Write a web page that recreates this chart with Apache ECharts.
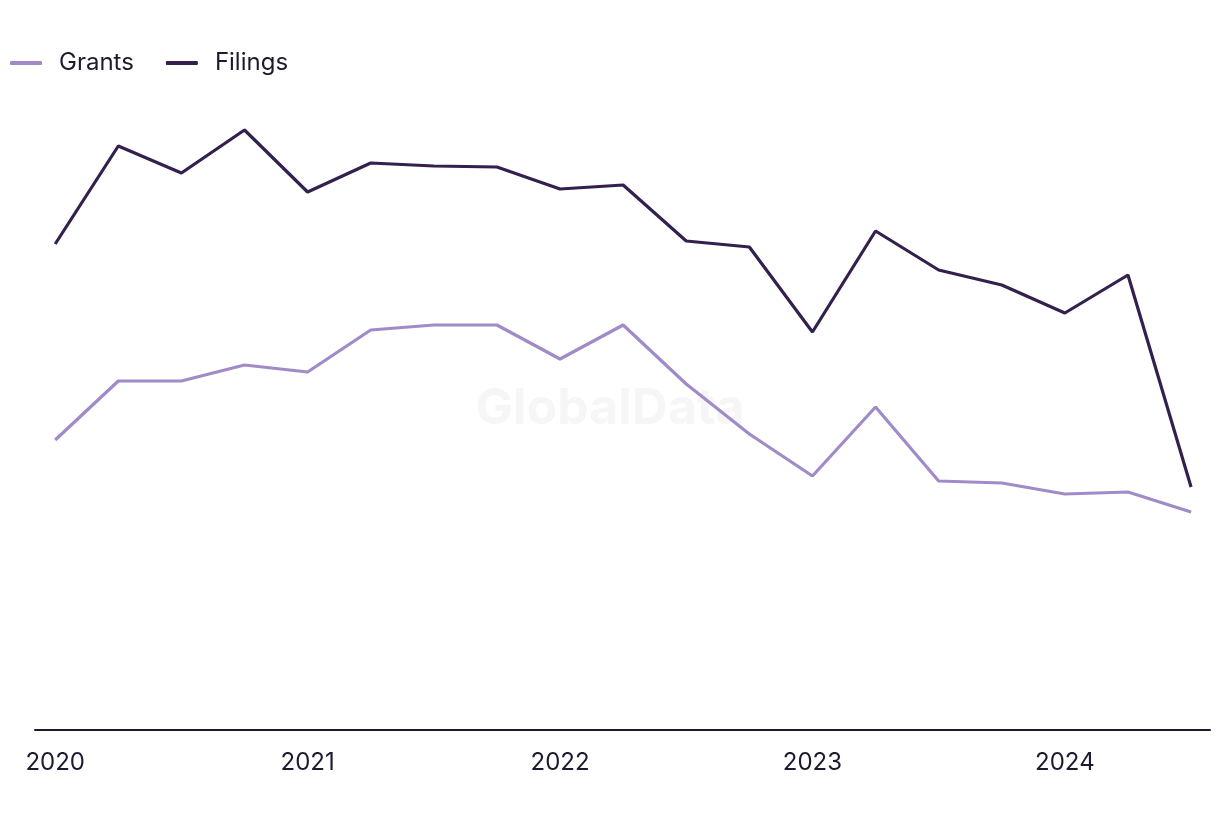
<!DOCTYPE html>
<html><head><meta charset="utf-8">
<script src="https://cdn.jsdelivr.net/npm/echarts@6/dist/echarts.min.js"></script>
<style>html,body{margin:0;padding:0;background:#fff}#c{width:1220px;height:820px}</style>
</head><body><div id="c"></div>
<script>
const quarters = ['2020 Q1','2020 Q2','2020 Q3','2020 Q4','2021 Q1','2021 Q2','2021 Q3','2021 Q4','2022 Q1','2022 Q2','2022 Q3','2022 Q4','2023 Q1','2023 Q2','2023 Q3','2023 Q4','2024 Q1','2024 Q2','2024 Q3'];
const filings = [486, 584, 557, 600, 538, 567, 564, 563, 541, 545, 489, 483, 398, 499, 460, 445, 417, 455, 243];
const grants  = [290, 349, 349, 365, 358, 400, 405, 405, 371, 405, 346, 296, 254, 323, 249, 247, 236, 238, 218];
const yearTicks = [0, 4, 8, 12, 16];
const yearLabels = ['2020','2021','2022','2023','2024'];

const font = 'Inter, "Noto Sans", sans-serif';
const chart = echarts.init(document.getElementById('c'), null, {renderer:'canvas'});
chart.setOption({
  animation:false,
  backgroundColor:'#ffffff',
  graphic:[{type:'text', left:'center', top:384, z:0, silent:true,
    style:{text:'GlobalData', font:'bold 50px '+font, fill:'#f6f6f6'}}],
  legend:{
    left:5, top:46, itemWidth:32, itemHeight:4, itemGap:32, icon:'roundRect',
    textStyle:{fontFamily:font, fontSize:24, color:'#1c1b2e', padding:[0,0,0,12]},
    data:['Grants','Filings']
  },
  grid:{left:35, right:10, top:100, bottom:90, containLabel:false},
  xAxis:{
    type:'value', min:-0.32, max:18.3,
    splitLine:{show:false},
    axisLine:{show:true, onZero:false, lineStyle:{color:'#1c1b2e', width:2}},
    axisTick:{show:false},
    axisLabel:{customValues:yearTicks, color:'#1c1b2e', fontFamily:font, fontSize:24, margin:21,
      formatter:v => yearLabels[yearTicks.indexOf(Math.round(v))] || ''}
  },
  yAxis:{type:'value', min:0, max:630, show:false, splitLine:{show:false}},
  series:[
    {name:'Grants', type:'line', data:grants.map((v,i)=>[i,v]), symbol:'none',
     lineStyle:{color:'#a08bc8', width:3.2}, itemStyle:{color:'#a08bc8'}, z:3},
    {name:'Filings', type:'line', data:filings.map((v,i)=>[i,v]), symbol:'none',
     lineStyle:{color:'#33204f', width:3.2}, itemStyle:{color:'#33204f'}, z:4}
  ]
});
</script></body></html>
